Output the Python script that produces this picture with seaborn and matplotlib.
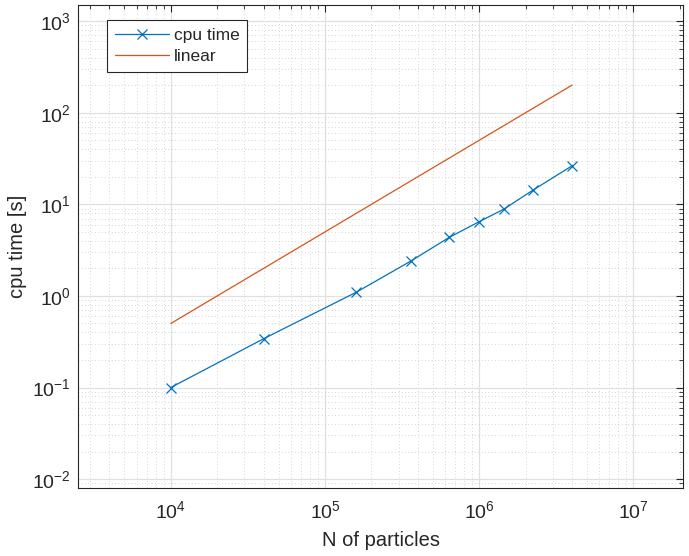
import numpy as np
import pandas as pd
import matplotlib
matplotlib.use("Agg")
import matplotlib.pyplot as plt
import seaborn as sns
from matplotlib.ticker import LogLocator, NullFormatter

n_particles = [1e4, 4e4, 1.6e5, 3.6e5, 6.4e5, 1e6, 1.44e6, 2.25e6, 4e6]
cpu_time = [0.1, 0.341, 1.10, 2.40, 4.36, 6.46, 8.83, 14.4, 26.3]
linear = [0.5, 2.0, 8.0, 18.0, 32.0, 50.0, 72.0, 112.5, 200.0]

df = pd.DataFrame({"N": n_particles, "cpu": cpu_time, "linear": linear})

sns.set_style("white")
plt.rcParams['font.family'] = ['Liberation Sans', 'DejaVu Sans']
plt.rcParams['mathtext.fontset'] = 'custom'
plt.rcParams['mathtext.rm'] = 'Liberation Sans'
plt.rcParams['mathtext.it'] = 'Liberation Sans'

fig = plt.figure(figsize=(6.89, 5.56), dpi=100)
ax = fig.add_axes([78/689, (556-488)/556, 605/689, 483/556])

blue = "#0072BD"
orange = "#D95319"

sns.lineplot(data=df, x="N", y="cpu", ax=ax, color=blue, marker="x",
             markersize=7, markeredgewidth=0.9, markeredgecolor=blue,
             markerfacecolor=blue, linewidth=0.9, label="cpu time")
sns.lineplot(data=df, x="N", y="linear", ax=ax, color=orange,
             linewidth=0.9, label="linear")

ax.set_xscale("log")
ax.set_yscale("log")
ax.set_xlim(2.5e3, 2.1e7)
ax.set_ylim(8e-3, 1.5e3)

ax.xaxis.set_major_locator(LogLocator(base=10, numticks=20))
ax.xaxis.set_minor_locator(LogLocator(base=10, subs=np.arange(2, 10), numticks=20))
ax.yaxis.set_major_locator(LogLocator(base=10, numticks=20))
ax.yaxis.set_minor_locator(LogLocator(base=10, subs=np.arange(2, 10), numticks=20))
ax.xaxis.set_minor_formatter(NullFormatter())
ax.yaxis.set_minor_formatter(NullFormatter())

ax.grid(True, which="major", color="#e0e0e0", linewidth=0.9, linestyle="-")
ax.grid(True, which="minor", color="#c8c8c8", linewidth=0.6, linestyle=(0, (1, 3)))
ax.set_axisbelow(True)

for s in ax.spines.values():
    s.set_color("#262626")
    s.set_linewidth(0.8)

ax.tick_params(which="both", direction="in", top=True, right=True,
               colors="#262626", labelcolor="#262626")
ax.tick_params(which="major", length=5, width=0.8, labelsize=14)
ax.tick_params(which="minor", length=3, width=0.6)
ax.tick_params(axis="x", which="major", pad=9)
ax.tick_params(axis="y", which="major", pad=5)

ax.set_xlabel("N of particles", fontsize=14.5, color="#262626", labelpad=6)
ax.set_ylabel("cpu time [s]", fontsize=14.5, color="#262626", labelpad=4)

leg = ax.legend(loc="upper left", bbox_to_anchor=(29/605, 1 - 15/483),
                frameon=True, fancybox=False, shadow=False, fontsize=12.5,
                borderpad=0.45, handlelength=3.1, labelspacing=0.35,
                handletextpad=0.3, borderaxespad=0)
leg.get_frame().set_edgecolor("#262626")
leg.get_frame().set_linewidth(0.8)
leg.get_frame().set_alpha(1)

fig.savefig("out.png", dpi=100, facecolor="white")
